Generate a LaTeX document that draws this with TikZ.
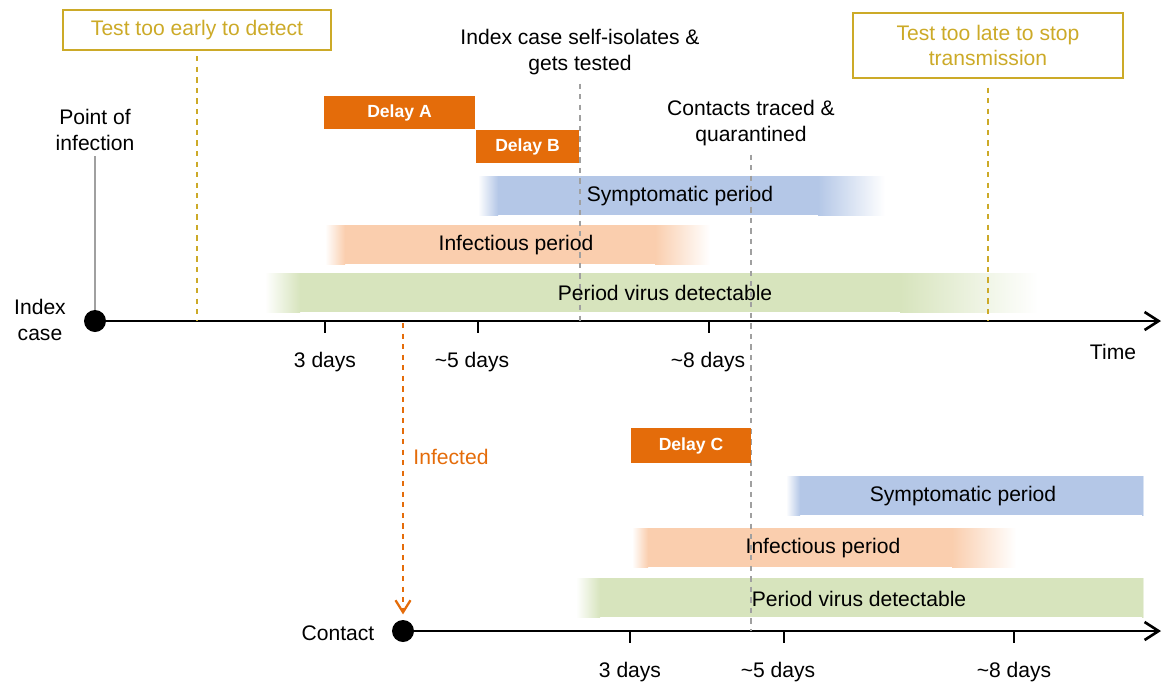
\documentclass[tikz,border=0pt]{standalone}
\usepackage{fontspec}
\setmainfont{Liberation Sans}
\usetikzlibrary{arrows.meta,positioning}

\definecolor{delayorange}{RGB}{228,108,10}
\definecolor{symblue}{RGB}{180,199,231}
\definecolor{infpeach}{RGB}{250,206,174}
\definecolor{detgreen}{RGB}{215,228,189}
\definecolor{testgold}{RGB}{204,170,40}
\definecolor{guidegray}{RGB}{160,160,160}

% bar: colour, start, solid from, solid to, end, top
\newcommand{\periodbar}[6]{%
    \shade[left color=white,right color=#1] (#2,#6) rectangle (#3,#6+39);
    \fill[#1] (#3-0.5,#6) rectangle (#4+0.5,#6+39);
    \shade[left color=#1,right color=white] (#4,#6) rectangle (#5,#6+39);
}

\begin{document}
\begin{tikzpicture}[x=0.02cm,y=-0.02cm]

                \tikzstyle{txt}=[font=\fontsize{12}{14.4}\selectfont, align=center, inner sep=1pt]
                \tikzstyle{delay}=[rectangle, fill=delayorange, text=white, font=\fontsize{10}{12}\selectfont\bfseries, inner sep=0pt, minimum height=0.67cm]
                \tikzstyle{testbox}=[txt, rectangle, draw=testgold, line width=1pt, text=testgold, inner sep=0pt]
                \tikzstyle{origin}=[circle, fill=black, minimum size=0.44cm, inner sep=0pt]
                \tikzstyle{axis}=[line width=1.5pt, -{Straight Barb[length=2.8mm,width=3.6mm]}]
                \tikzstyle{tick}=[line width=1.2pt]
                \tikzstyle{guide}=[guidegray, dashed, line width=1pt]
                \tikzstyle{testline}=[testgold, dashed, line width=1.5pt]
                \tikzstyle{infline}=[delayorange, dashed, line width=1.3pt, -{Straight Barb[length=2.4mm,width=3mm]}]

                \useasboundingbox (0,0) rectangle (1163,684);

                % Periods of the index case
                \periodbar{symblue}{478}{498}{818}{885}{176}
                \periodbar{infpeach}{325}{345}{655}{710}{225}
                \periodbar{detgreen}{265}{300}{900}{1038}{273}

                % Periods of the contact
                \periodbar{symblue}{786}{800}{1142}{1144}{476}
                \periodbar{infpeach}{632}{648}{952}{1016}{528}
                \periodbar{detgreen}{576}{600}{1142}{1144}{578}

                % Time lines
                \node at (95,321) [origin] (idot) {};
                \node at (403,631) [origin] (cdot) {};
                \coordinate (iend) at (1161,321);
                \coordinate (cend) at (1161,631);
                \draw[axis] (idot.center) -- (iend);
                \draw[axis] (cdot.center) -- (cend);
                \foreach \x in {325,478,709}
                    \draw[tick] (\x,321) -- ++(0,12);
                \foreach \x in {630,784,1014}
                    \draw[tick] (\x,631) -- ++(0,12);

                % Labels on the axes
                \node at (40,320) [txt] (idx) {Index\\case};
                \node at (338,633) [txt] (con) {Contact};
                \node at (1113,352) [txt] (time) {Time};
                \node at (325,362) [txt] (i3) {3 days};
                \node at (472,362) [txt] (i5) {\textasciitilde5 days};
                \node at (708,362) [txt] (i8) {\textasciitilde8 days};
                \node at (630,672) [txt] (c3) {3 days};
                \node at (778,672) [txt] (c5) {\textasciitilde5 days};
                \node at (1014,672) [txt] (c8) {\textasciitilde8 days};

                % Events
                \node at (95,130) [txt] (poi) {Point of\\infection};
                \draw[guidegray, line width=1pt] ([yshift=-2pt]poi.south) -- (idot);
                \node at (197,30) [testbox, minimum width=5.36cm, minimum height=0.8cm] (early) {Test too early to detect};
                \draw[testline] ([yshift=-3pt]early.south) -- (early.south |- idot.center);
                \node at (988,45.5) [testbox, minimum width=5.4cm, minimum height=1.3cm] (late) {Test too late to stop\\transmission};
                \draw[testline] ([yshift=-5pt]late.south) -- (late.south |- idot.center);
                \node at (580,52) [txt] (iso) {Index case self-isolates \&\\gets tested};
                \draw[guide] ([yshift=-4pt]iso.south) -- (iso.south |- idot.center);
                \node at (751,123) [txt] (traced) {Contacts traced \&\\quarantined};
                \draw[guide] ([yshift=-4pt]traced.south) -- (traced.south |- cdot.center);

                % Delays
                \node at (399.5,112.5) [delay, minimum width=3.02cm] (dA) {Delay A};
                \node at (527.5,146.5) [delay, minimum width=2.06cm] (dB) {Delay B};
                \node at (691,445.5) [delay, minimum width=2.4cm, minimum height=0.7cm] (dC) {Delay C};

                % Period names
                \node at (680,196) [txt] (isym) {Symptomatic period};
                \node at (516,245) [txt] (iinf) {Infectious period};
                \node at (665,293) [txt] (idet) {Period virus detectable};
                \node at (963,496) [txt] (csym) {Symptomatic period};
                \node at (823,548) [txt] (cinf) {Infectious period};
                \node at (859,599) [txt] (cdet) {Period virus detectable};

                % Transmission
                \coordinate (infsrc) at (403,323);
                \draw[infline, shorten >=3pt] (infsrc) -- (cdot.north);
                \node at (451,457) [txt, text=delayorange] (inf) {Infected};

\end{tikzpicture}
\end{document}
